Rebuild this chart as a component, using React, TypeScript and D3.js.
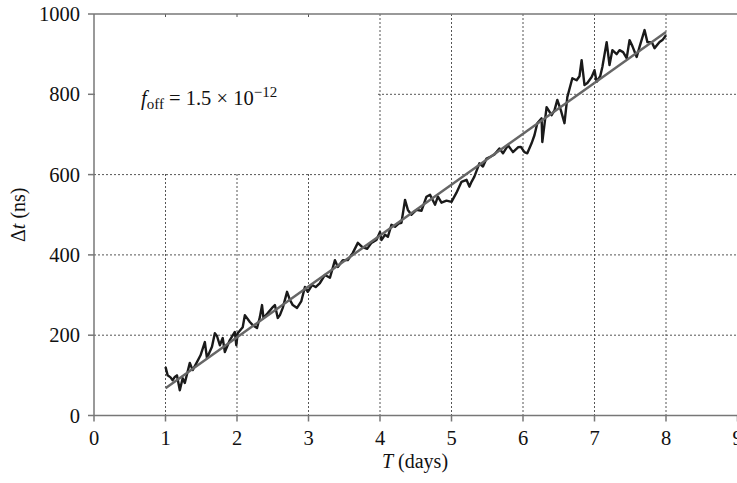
import React from "react";
import * as d3 from "d3";

const tDays = [
  1.0, 1.03, 1.07, 1.1, 1.13, 1.16, 1.2, 1.24, 1.27, 1.34, 1.38, 1.44, 1.49, 1.55, 1.58, 1.65, 1.69, 1.72, 1.76, 1.8,
  1.83, 1.9, 1.97, 1.99, 2.01, 2.08, 2.11, 2.18, 2.22, 2.28, 2.32, 2.35, 2.37, 2.43, 2.49, 2.53, 2.57, 2.6, 2.64, 2.7,
  2.74, 2.78, 2.84, 2.9, 2.95, 2.99, 3.05, 3.1, 3.16, 3.23, 3.3, 3.37, 3.41, 3.48, 3.55, 3.62, 3.69, 3.75, 3.82, 3.88,
  3.95, 4.0, 4.02, 4.07, 4.11, 4.16, 4.21, 4.26, 4.3, 4.35, 4.39, 4.44, 4.51, 4.58, 4.65, 4.7, 4.77, 4.81, 4.86, 4.93,
  5.0, 5.07, 5.14, 5.21, 5.25, 5.28, 5.32, 5.39, 5.44, 5.49, 5.55, 5.6, 5.67, 5.72, 5.79, 5.86, 5.93, 5.97, 6.02, 6.06,
  6.12, 6.16, 6.2, 6.26, 6.27, 6.33, 6.4, 6.44, 6.48, 6.53, 6.58, 6.62, 6.69, 6.75, 6.79, 6.82, 6.86, 6.9, 6.96, 7.0,
  7.03, 7.08, 7.11, 7.17, 7.21, 7.25, 7.31, 7.35, 7.4, 7.45, 7.49, 7.53, 7.59, 7.63, 7.7, 7.74, 7.8, 7.84, 7.91, 7.95,
  8.0,
];
const deltaT = [
  121, 100, 95, 88, 96, 100, 63, 93, 81, 131, 113, 133, 150, 183, 143, 171, 205, 198, 175, 193,
  158, 188, 208, 175, 205, 220, 250, 233, 225, 218, 245, 275, 243, 255, 268, 275, 243, 250, 268, 308,
  288, 275, 268, 285, 320, 308, 325, 320, 330, 350, 343, 387, 370, 387, 387, 405, 430, 420, 415, 430,
  437, 457, 437, 450, 445, 475, 470, 478, 480, 537, 512, 500, 512, 510, 545, 550, 525, 545, 530, 535,
  532, 555, 582, 587, 570, 582, 595, 628, 620, 640, 645, 650, 665, 653, 673, 656, 668, 669, 656, 653,
  678, 698, 728, 740, 681, 768, 748, 760, 786, 760, 728, 793, 840, 835, 845, 885, 823, 828, 843, 860,
  831, 845, 868, 930, 873, 910, 900, 910, 905, 890, 935, 920, 893, 918, 960, 930, 930, 915, 930, 935,
  947,
];
const fitT = [1, 8];
const fitDelta = [68, 955];
const xTicks = [0, 1, 2, 3, 4, 5, 6, 7, 8, 9];
const yTicks = [0, 200, 400, 600, 800, 1000];
const xGrid = [1, 2, 3, 4, 5, 6, 7, 8];
const yGrid = [200, 400, 600, 800];

const W = 737;
const H = 483;
const FONT = "'Liberation Serif', 'DejaVu Serif', serif";

export default function App() {
  const x = d3.scaleLinear().domain([0, 9]).range([94, 737.5]);
  const y = d3.scaleLinear().domain([0, 1000]).range([415.5, 14]);

  const data = tDays.map((t, i) => [t, deltaT[i]] as [number, number]);
  const fit = fitT.map((t, i) => [t, fitDelta[i]] as [number, number]);
  const line = d3
    .line<[number, number]>()
    .x((d) => x(d[0]))
    .y((d) => y(d[1]));

  const x0 = x(0);
  const y0 = y(0);
  const yTop = y(1000);
  const gridColor = "#555";
  const axisColor = "#777";

  return (
    <svg
      width={W}
      height={H}
      style={{ position: "fixed", left: 0, top: 0, background: "#fff" }}
      fontFamily={FONT}
    >
      <rect x={0} y={0} width={W} height={H} fill="#fff" />
      {/* grid */}
      <g stroke={gridColor} strokeWidth={1} strokeDasharray="2,2">
        {xGrid.map((v) => (
          <line key={"gx" + v} x1={x(v)} x2={x(v)} y1={yTop} y2={y0} />
        ))}
        {yGrid.map((v) => (
          <line key={"gy" + v} x1={x0} x2={W} y1={y(v)} y2={y(v)} />
        ))}
      </g>
      {/* white box behind annotation */}
      <rect x={x0 + 1} y={yTop + 1} width={x(4) - x0 - 4} height={y(600) - yTop - 2.5} fill="#fff" />
      {/* short top ticks */}
      <g stroke={gridColor} strokeWidth={1}>
        {[1, 2, 3].map((v) => (
          <line key={"tt" + v} x1={x(v)} x2={x(v)} y1={yTop} y2={yTop + 3} />
        ))}
      </g>
      {/* axes */}
      <g stroke={axisColor} strokeWidth={1.5}>
        <line x1={x0} x2={x0} y1={yTop} y2={y0} />
        <line x1={x0} x2={W} y1={y0} y2={y0} />
        <line x1={x0} x2={W} y1={yTop} y2={yTop} />
        {yTicks.map((v) => (
          <line key={"yt" + v} x1={x0 - 6} x2={x0} y1={y(v)} y2={y(v)} />
        ))}
        {xTicks.map((v) => (
          <line key={"xt" + v} x1={x(v)} x2={x(v)} y1={y0} y2={y0 + 6} />
        ))}
      </g>
      {/* tick labels */}
      <g fontSize={20.5} fill="#111">
        {yTicks.map((v) => (
          <text key={"yl" + v} x={x0 - 14} y={y(v) + 7} textAnchor="end">
            {v}
          </text>
        ))}
        {xTicks.map((v) => (
          <text key={"xl" + v} x={x(v)} y={445} textAnchor="middle">
            {v}
          </text>
        ))}
      </g>
      {/* axis titles */}
      <text x={415} y={468} textAnchor="middle" fontSize={20} fill="#111">
        <tspan fontStyle="italic">T</tspan>
        <tspan> (days)</tspan>
      </text>
      <text
        transform={`translate(25, ${(yTop + y0) / 2}) rotate(-90)`}
        textAnchor="middle"
        fontSize={20}
        fill="#111"
      >
        <tspan>Δ</tspan>
        <tspan fontStyle="italic">t</tspan>
        <tspan> (ns)</tspan>
      </text>
      {/* annotation */}
      <text x={141} y={105} fontSize={20.5} fill="#111">
        <tspan fontStyle="italic">f</tspan>
        <tspan fontSize={15} dy={4}>off</tspan>
        <tspan dy={-4}> = 1.5 × 10</tspan>
        <tspan fontSize={15} dy={-8}>−12</tspan>
      </text>
      {/* data */}
      <path d={line(data) || ""} fill="none" stroke="#1a1a1a" strokeWidth={2.4} strokeLinejoin="round" />
      <path d={line(fit) || ""} fill="none" stroke="#666" strokeWidth={2.5} />
    </svg>
  );
}
